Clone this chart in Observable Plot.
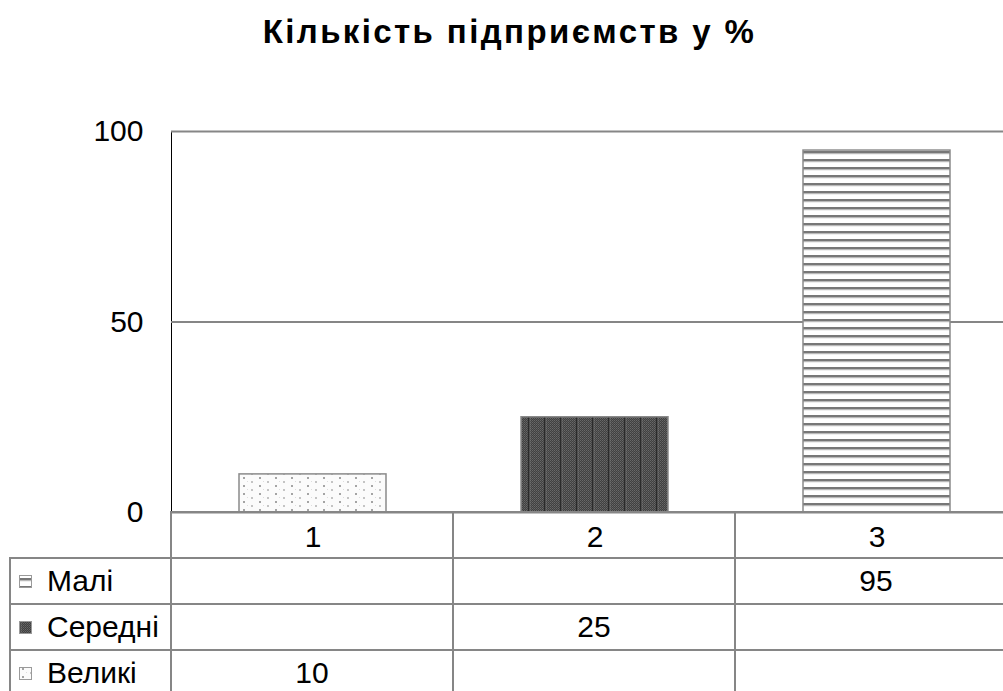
<!DOCTYPE html>
<html>
<head>
<meta charset="utf-8">
<script src="https://cdn.jsdelivr.net/npm/d3@7"></script>
<script src="https://cdn.jsdelivr.net/npm/@observablehq/plot@0.6"></script>
<style>
html, body { margin: 0; padding: 0; background: #fff; overflow: hidden; width: 1003px; height: 691px; }
body { position: relative; font-family: "Liberation Sans", Arial, sans-serif; color: #000; }
#title { height: 100px; box-sizing: border-box; padding-top: 13px; padding-left: 16px; width: 1003px;
  text-align: center; font-weight: bold; font-size: 33px; letter-spacing: 2.4px; line-height: 38px; white-space: pre; }
#chart svg { display: block; max-width: none !important; }
#table { position: absolute; left: 9px; top: 511px; border-collapse: collapse; table-layout: fixed;
  font-size: 30px; font-family: "Liberation Sans", Arial, sans-serif; }
#table td { border: 2px solid #868686; padding: 0; text-align: center; vertical-align: middle; white-space: nowrap; overflow: hidden; }
#table tr { height: 46px; }
#table td.corner { border-top: none; border-left: none; }
#table td.name { text-align: left; padding-left: 8px; }
#table td.name svg { vertical-align: middle; margin-right: 15px; position: relative; top: -2px; }
</style>
</head>
<body>
<svg width="0" height="0" style="position:absolute">
  <defs>
    <pattern id="pMali" patternUnits="userSpaceOnUse" width="8" height="8">
      <rect width="8" height="8" fill="#ffffff"/>
      <rect y="3" width="8" height="2.4" fill="#777777"/>
      <rect y="5.4" width="8" height="0.8" fill="#b0b0b0"/>
    </pattern>
    <pattern id="pChecker" patternUnits="userSpaceOnUse" width="2" height="2">
      <rect width="2" height="2" fill="#404040"/>
      <rect x="0" y="0" width="1" height="1" fill="#686868"/>
      <rect x="1" y="1" width="1" height="1" fill="#5a5a5a"/>
    </pattern>
    <pattern id="pSeredni" patternUnits="userSpaceOnUse" width="16" height="4">
      <rect width="16" height="4" fill="url(#pChecker)"/>
      <rect x="0" width="1.5" height="4" fill="#2a2a2a"/>
      <rect x="1.5" width="1" height="4" fill="#7a7a7a" fill-opacity="0.6"/>
    </pattern>
    <pattern id="pVeliki" patternUnits="userSpaceOnUse" width="16" height="8">
      <rect width="16" height="8" fill="#fbfbfb"/>
      <rect x="3" y="1" width="2" height="2" fill="#a4a4a4"/>
      <rect x="11" y="5" width="2" height="2" fill="#c4c4c4"/>
      <rect x="7" y="5" width="1" height="1" fill="#dddddd"/>
    </pattern>
  </defs>
</svg>
<div id="title"></div>
<div id="chart"></div>
<script>
// ---- data ----
const title = "Кількість підприємств у %";
const categories = ["1", "2", "3"];
const seriesNames = ["Малі", "Середні", "Великі"];
const seriesCategory = ["3", "2", "1"];
const seriesValues = [95, 25, 10];
const yTicks = [0, 50, 100];

// ---- styles (not data) ----
const fillFor = { "Малі": "url(#pMali)", "Середні": "url(#pSeredni)", "Великі": "url(#pVeliki)" };

const rows = seriesNames.map((s, i) => ({ series: s, category: seriesCategory[i], value: seriesValues[i] }));

document.getElementById("title").textContent = title;

const chart = Plot.plot({
  width: 1017,
  height: 591,
  marginTop: 31,
  marginBottom: 179,
  marginLeft: 171,
  marginRight: 0,
  style: { fontFamily: "Liberation Sans, Arial, sans-serif", fontSize: "30px", color: "#000", background: "transparent", maxWidth: "none" },
  x: { domain: categories, paddingInner: 0.48, paddingOuter: 0.24, tickSize: 0, tickPadding: 13, label: null },
  y: { domain: [0, 100], ticks: yTicks, tickSize: 0, tickPadding: 28, label: null, line: true },
  color: { type: "identity" },
  marks: [
    Plot.ruleY(yTicks, { stroke: "#868686", strokeWidth: 2 }),
    Plot.barY(rows, { x: "category", y: "value", fill: d => fillFor[d.series], stroke: "#8a8a8a", strokeWidth: 1.5 })
  ]
});
chart.style.maxWidth = "none";
document.getElementById("chart").appendChild(chart);
d3.select(chart).selectAll('g[aria-label="y-axis"] path, g[aria-label="y-axis"] line')
  .attr("stroke", "#868686").attr("stroke-width", 2).attr("stroke-opacity", 1);

// ---- data table ----
const step = chart.scale("x").step;
const firstCol = 161;
const table = d3.select("body").append("table").attr("id", "table")
  .style("width", (firstCol + categories.length * step) + "px");
const cg = table.append("colgroup");
cg.append("col").style("width", firstCol + "px");
categories.forEach(() => cg.append("col").style("width", step + "px"));
const header = table.append("tr");
header.append("td").attr("class", "corner");
categories.forEach(() => header.append("td"));
seriesNames.forEach((s, i) => {
  const tr = table.append("tr");
  const name = tr.append("td").attr("class", "name");
  const ic = name.append("svg").attr("width", 13).attr("height", 13);
  ic.append("rect").attr("x", 0.5).attr("y", 0.5).attr("width", 12).attr("height", 12)
    .attr("fill", fillFor[s]).attr("stroke", "#9a9a9a").attr("stroke-width", 1);
  name.append("span").text(s);
  categories.forEach(c => tr.append("td").text(c === seriesCategory[i] ? seriesValues[i] : ""));
});
</script>
</body>
</html>
